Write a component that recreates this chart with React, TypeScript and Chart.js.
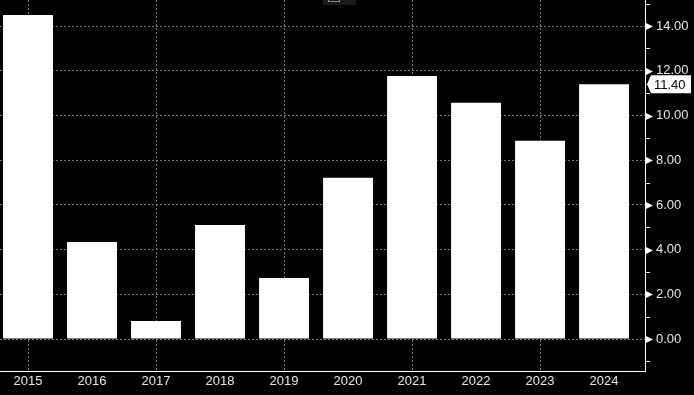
import React, { useEffect, useRef } from "react";
import { Chart, registerables } from "chart.js";

Chart.register(...registerables);

const years = ["2015", "2016", "2017", "2018", "2019", "2020", "2021", "2022", "2023", "2024"];
const values = [14.5, 4.34, 0.81, 5.1, 2.73, 7.22, 11.77, 10.57, 8.87, 11.4];
const lastLabel = "11.40";

const gridPlugin = {
  id: "vgrid",
  beforeDatasetsDraw(chart: any) {
    const ctx = chart.ctx;
    const xs = chart.scales.x;
    const area = chart.chartArea;
    ctx.save();
    ctx.strokeStyle = "#777777";
    ctx.lineWidth = 1;
    ctx.setLineDash([2, 2]);
    years.forEach((_, i) => {
      if (i % 2 !== 0) return;
      const px = Math.round(xs.getPixelForValue(i)) + 0.5;
      ctx.beginPath();
      ctx.moveTo(px, area.top);
      ctx.lineTo(px, area.bottom);
      ctx.stroke();
    });
    ctx.restore();
  },
};

const overlayPlugin = {
  id: "overlay",
  afterDraw(chart: any) {
    const ctx = chart.ctx;
    const ys = chart.scales.y;
    const area = chart.chartArea;
    const ax = area.right;
    ctx.save();
    ctx.fillStyle = "#ffffff";
    ctx.strokeStyle = "#ffffff";
    ctx.lineWidth = 1;
    for (let v = -1; v <= 15; v++) {
      const py = Math.round(ys.getPixelForValue(v));
      if (py < area.top - 1 || py > area.bottom) continue;
      if (v % 2 !== 0) {
        ctx.beginPath();
        ctx.moveTo(ax, py + 0.5);
        ctx.lineTo(ax + 5, py + 0.5);
        ctx.stroke();
      } else {
        ctx.beginPath();
        ctx.moveTo(ax + 1, py - 3);
        ctx.lineTo(ax + 8, py + 0.5);
        ctx.lineTo(ax + 1, py + 4);
        ctx.closePath();
        ctx.fill();
      }
    }
    const lv = values[values.length - 1];
    const ly = ys.getPixelForValue(lv);
    ctx.beginPath();
    ctx.moveTo(ax + 2, ly);
    ctx.lineTo(ax + 6, ly - 9);
    ctx.lineTo(ax + 46, ly - 9);
    ctx.lineTo(ax + 46, ly + 9);
    ctx.lineTo(ax + 6, ly + 9);
    ctx.closePath();
    ctx.fillStyle = "#ffffff";
    ctx.fill();
    ctx.fillStyle = "#000000";
    ctx.font = "13px 'Liberation Sans', Arial, sans-serif";
    ctx.textAlign = "left";
    ctx.textBaseline = "middle";
    ctx.fillText(lastLabel, ax + 9, ly + 1);
    ctx.restore();
  },
};

export default function App() {
  const ref = useRef<HTMLCanvasElement | null>(null);
  useEffect(() => {
    document.body.style.margin = "0";
    document.body.style.background = "#000";
    const chart = new Chart(ref.current as HTMLCanvasElement, {
      type: "bar",
      data: {
        datasets: [
          {
            data: values.map((v, i) => ({ x: i, y: v })),
            backgroundColor: "#ffffff",
            borderWidth: 0,
            barPercentage: 0.78,
            categoryPercentage: 1,
          },
        ],
      },
      options: {
        animation: false,
        responsive: false,
        maintainAspectRatio: false,
        layout: { padding: 0, autoPadding: false },
        plugins: { legend: { display: false }, tooltip: { enabled: false } },
        scales: {
          x: {
            type: "linear",
            offset: false,
            min: -0.4375,
            max: 9.64,
            afterFit: (s: any) => {
              s.height = 24;
              s.paddingLeft = 0;
              s.paddingRight = 0;
            },
            ticks: {
              stepSize: 1,
              includeBounds: false,
              autoSkip: false,
              maxRotation: 0,
              padding: 3,
              color: "#e6e6e6",
              font: { family: "'Liberation Sans', Arial, sans-serif", size: 13 },
              callback: (v: any) => {
                const i = Math.round(Number(v));
                return i >= 0 && i < years.length ? years[i] : "";
              },
            },
            grid: {
              offset: false,
              drawTicks: false,
              drawOnChartArea: false,
            },
            border: { display: true, color: "#ffffff", width: 1 },
          },
          y: {
            position: "right",
            min: -1.43,
            max: 15.17,
            afterFit: (s: any) => {
              s.width = 49;
              s.paddingTop = 0;
              s.paddingBottom = 0;
            },
            ticks: {
              stepSize: 2,
              includeBounds: false,
              padding: 11,
              color: "#e6e6e6",
              font: { family: "'Liberation Sans', Arial, sans-serif", size: 13 },
              callback: (v: any) => Number(v).toFixed(2),
            },
            grid: { drawTicks: false, color: "#777777", lineWidth: 1 },
            border: { display: true, color: "#ffffff", width: 1, dash: [2, 2] },
          },
        },
      },
      plugins: [gridPlugin, overlayPlugin],
    } as any);
    return () => chart.destroy();
  }, []);
  return (
    <div style={{ position: "absolute", left: 0, top: 0, width: 694, height: 395, background: "#000" }}>
      <canvas ref={ref} width={694} height={395} style={{ display: "block" }} />
      <div
        style={{
          position: "absolute",
          left: 323,
          top: 0,
          width: 33,
          height: 5,
          background: "#1b1b1b",
        }}
      >
        <div
          style={{
            position: "absolute",
            left: 5,
            top: -3,
            width: 12,
            height: 5,
            border: "1px solid #888",
            boxSizing: "border-box",
          }}
        />
      </div>
    </div>
  );
}
